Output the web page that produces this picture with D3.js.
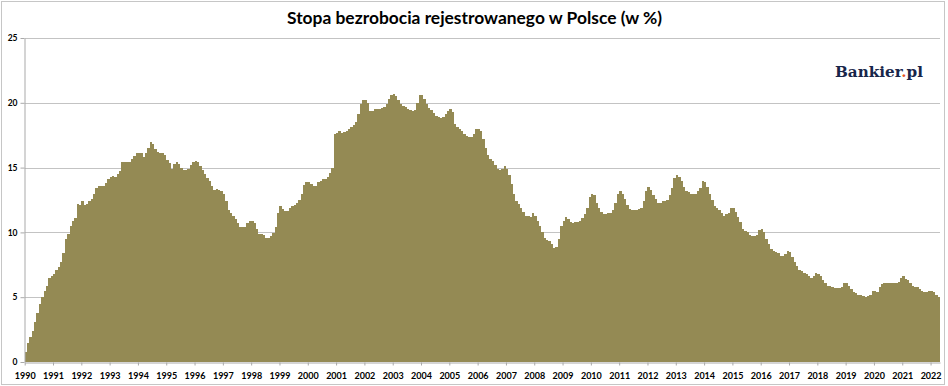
<!DOCTYPE html>
<html><head><meta charset="utf-8">
<script src="https://cdn.jsdelivr.net/npm/d3@7"></script>
<style>html,body{margin:0;padding:0;background:#fff;} svg{display:block;}</style>
</head><body>
<script>
const chartTitle = "Stopa bezrobocia rejestrowanego w Polsce (w %)";
const yearLabels = ["1990","1991","1992","1993","1994","1995","1996","1997","1998","1999",
  "2000","2001","2002","2003","2004","2005","2006","2007","2008","2009",
  "2010","2011","2012","2013","2014","2015","2016","2017","2018","2019",
  "2020","2021","2022"];
const yTickValues = [0, 5, 10, 15, 20, 25];

// monthly registered unemployment rate (%), from Feb 1990
const rates1990s = [
  0.8, 1.5, 1.9, 2.4, 3.1, 3.8, 4.5, 5.0, 5.5, 5.9, 6.5,
  6.6, 6.8, 7.1, 7.3, 7.7, 8.4, 9.5, 9.9, 10.5, 10.9, 11.1, 12.2,
  12.1, 12.4, 12.1, 12.2, 12.4, 12.6, 13.0, 13.4, 13.6, 13.6, 13.6, 13.8,
  14.1, 14.3, 14.35, 14.3, 14.5, 14.7, 15.45, 15.45, 15.45, 15.4, 15.7, 15.9,
  16.15, 16.15, 16.1, 15.8, 16.15, 16.55, 17.0, 16.8, 16.4, 16.2, 16.15, 16.15,
  15.95, 15.6, 15.35, 14.9, 15.25, 15.4, 15.3, 15.0, 14.8, 14.8, 14.9, 15.2,
  15.45, 15.5, 15.45, 15.1, 14.8, 14.5, 14.2, 13.95, 13.6, 13.3, 13.35, 13.25,
  13.2, 13.0, 12.4, 11.75, 11.5, 11.3, 11.05, 10.7, 10.4, 10.4, 10.4, 10.7,
  10.85, 10.85, 10.7, 10.25, 9.9, 9.85, 9.8, 9.6, 9.6, 9.75, 9.95, 10.4,
  11.5, 12.0, 11.8, 11.65, 11.65, 11.85, 12.0, 12.15, 12.3, 12.5, 13.0, 13.65
];
const rates2000s = [
  13.9, 13.9, 13.7, 13.55, 13.55, 13.9, 14.0, 14.1, 14.15, 14.25, 14.6, 14.95,
  17.6, 17.7, 17.8, 17.7, 17.75, 17.85, 18.0, 18.1, 18.25, 18.5, 19.1, 19.9,
  20.2, 20.2, 20.0, 19.4, 19.4, 19.5, 19.55, 19.55, 19.6, 19.7, 19.9, 20.3,
  20.6, 20.7, 20.5, 20.2, 19.9, 19.75, 19.65, 19.55, 19.45, 19.4, 19.45, 20.0,
  20.6, 20.6, 20.3, 19.9, 19.6, 19.45, 19.2, 19.0, 18.9, 18.8, 18.9, 19.1,
  19.4, 19.5, 19.3, 18.4, 18.1, 17.95, 17.8, 17.6, 17.4, 17.35, 17.35, 17.6,
  18.0, 18.0, 17.8, 17.2, 16.5, 16.0, 15.7, 15.5, 15.2, 14.9, 14.8, 14.9,
  15.1, 14.9, 14.4, 13.7, 13.0, 12.4, 12.2, 11.9, 11.6, 11.3, 11.3, 11.2,
  11.5, 11.3, 10.9, 10.5, 10.0, 9.6, 9.4, 9.3, 9.1, 8.8, 8.9, 9.5,
  10.5, 10.9, 11.2, 11.0, 10.8, 10.7, 10.8, 10.8, 10.9, 11.1, 11.4, 11.9
];
const rates2010s = [
  12.7, 13.0, 12.9, 12.3, 11.9, 11.6, 11.4, 11.4, 11.5, 11.5, 11.7, 12.3,
  13.0, 13.2, 13.0, 12.6, 12.1, 11.8, 11.7, 11.7, 11.7, 11.8, 11.9, 12.4,
  13.2, 13.5, 13.3, 12.9, 12.6, 12.3, 12.3, 12.4, 12.4, 12.5, 12.9, 13.4,
  14.2, 14.4, 14.3, 14.0, 13.5, 13.2, 13.1, 13.0, 13.0, 13.0, 13.2, 13.4,
  14.0, 13.9, 13.5, 13.0, 12.5, 12.0, 11.9, 11.7, 11.5, 11.3, 11.4, 11.5,
  11.9, 11.9, 11.6, 11.2, 10.8, 10.3, 10.1, 10.0, 9.8, 9.7, 9.7, 9.8,
  10.2, 10.3, 10.0, 9.5, 9.1, 8.7, 8.6, 8.5, 8.4, 8.2, 8.2, 8.3,
  8.6, 8.5, 8.1, 7.7, 7.4, 7.1, 7.0, 6.9, 6.8, 6.6, 6.5, 6.6,
  6.9, 6.8, 6.6, 6.3, 6.1, 5.9, 5.9, 5.8, 5.7, 5.7, 5.7, 5.8,
  6.1, 6.1, 5.9, 5.6, 5.4, 5.3, 5.2, 5.2, 5.1, 5.0, 5.1, 5.2
];
const rates2020s = [
  5.5, 5.5, 5.4, 5.8, 6.0, 6.1, 6.1, 6.1, 6.1, 6.1, 6.1, 6.2,
  6.5, 6.6, 6.4, 6.3, 6.1, 5.9, 5.8, 5.8, 5.6, 5.5, 5.4, 5.4,
  5.5, 5.5, 5.4, 5.2, 5.0
];

const values = rates1990s.concat(rates2000s, rates2010s, rates2020s);

const W = 948, H = 386;
const svg = d3.select("body").append("svg").attr("width", W).attr("height", H);

svg.append("rect").attr("x", 1.5).attr("y", 1.5).attr("width", 943).attr("height", 383)
  .attr("fill", "#fff").attr("stroke", "#c6c6c6").attr("stroke-width", 1);

const x = d3.scaleLinear().domain([0, values.length]).range([24.7, 940]);
const y = d3.scaleLinear().domain([0, 25]).range([362, 38]);

// gridlines
svg.append("g").selectAll("line").data(yTickValues.filter(v => v > 0)).join("line")
  .attr("x1", x(0)).attr("x2", x(values.length))
  .attr("y1", d => Math.round(y(d)) + 0.5).attr("y2", d => Math.round(y(d)) + 0.5)
  .attr("stroke", "#c3c3c3").attr("stroke-width", 1);

// bars
svg.append("g").attr("shape-rendering", "crispEdges").selectAll("rect").data(values).join("rect")
  .attr("x", (d, i) => x(i))
  .attr("width", (d, i) => x(i + 1) - x(i))
  .attr("y", d => y(d))
  .attr("height", d => y(0) - y(d))
  .attr("fill", "#948A54");

const axisColor = "#a9a9a9";
const font = "Lato, 'Liberation Sans', sans-serif";

// y axis
const yAxis = svg.append("g").attr("transform", `translate(${Math.round(x(0)) - 0.5},0)`)
  .call(d3.axisLeft(y).tickValues(yTickValues).tickSize(4).tickSizeOuter(0).tickPadding(3));
yAxis.select(".domain").attr("stroke", axisColor);
yAxis.selectAll(".tick line").attr("stroke", axisColor);
yAxis.selectAll(".tick text").attr("font-family", font).attr("font-weight", "bold")
  .attr("font-size", "8.5px").attr("fill", "#000");

// x axis
const xAxis = svg.append("g").attr("transform", `translate(0,${Math.round(y(0)) + 0.5})`)
  .call(d3.axisBottom(x).tickValues(yearLabels.map((_, k) => k * 12))
    .tickFormat((d, k) => yearLabels[k]).tickSize(3).tickSizeOuter(0));
xAxis.select(".domain").attr("stroke", axisColor);
xAxis.selectAll(".tick line").attr("stroke", axisColor);
xAxis.selectAll(".tick text").attr("font-family", font).attr("font-weight", "bold")
  .attr("font-size", "9px").attr("fill", "#000").attr("y", 16.5).attr("dy", null);

// title
svg.append("text").attr("x", 474.5).attr("y", 24).attr("text-anchor", "middle")
  .attr("font-family", font).attr("font-weight", "bold").attr("font-size", "17.5px")
  .attr("fill", "#000").attr("textLength", 375).attr("lengthAdjust", "spacingAndGlyphs")
  .text(chartTitle);

// logo
const logo = svg.append("text").attr("x", 835).attr("y", 77)
  .attr("font-family", "'DejaVu Serif', 'Liberation Serif', serif").attr("font-weight", "bold")
  .attr("font-size", "14.5px").attr("fill", "#18264a")
  .attr("textLength", 88).attr("lengthAdjust", "spacingAndGlyphs");
logo.append("tspan").text("Bankier");
logo.append("tspan").attr("fill", "#e8521c").text(".");
logo.append("tspan").text("pl");
</script>
</body></html>
